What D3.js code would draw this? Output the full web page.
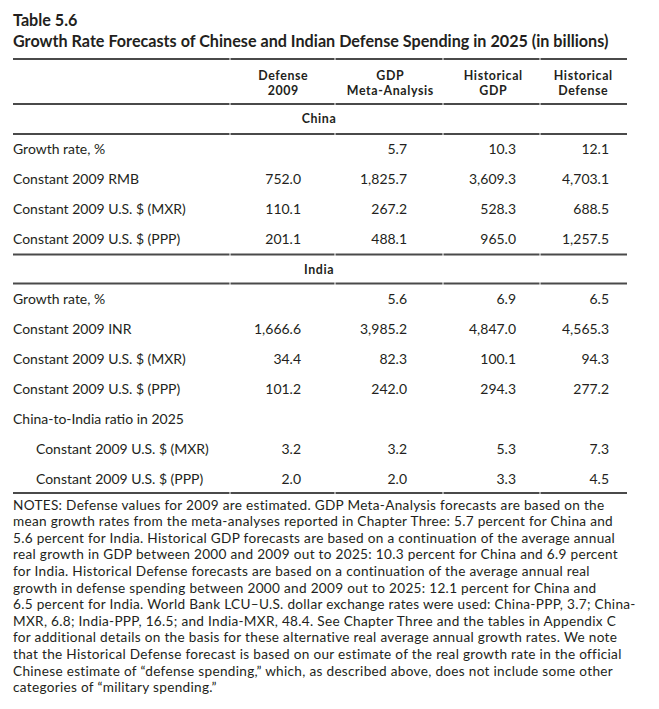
<!DOCTYPE html>
<html><head><meta charset="utf-8">
<script src="https://cdn.jsdelivr.net/npm/d3@7"></script>
<style>
html,body{margin:0;padding:0;background:#fff;}
svg{display:block;}
text{fill:#231f20;}
</style></head>
<body>
<script>
// ---------- data ----------
const tableNumber = "Table 5.6";
const tableTitle = "Growth Rate Forecasts of Chinese and Indian Defense Spending in 2025 (in billions)";
const columnHeads = [["Defense","2009"],["GDP","Meta-Analysis"],["Historical","GDP"],["Historical","Defense"]];
const chinaRows = ["Growth rate, %","Constant 2009 RMB","Constant 2009 U.S. $ (MXR)","Constant 2009 U.S. $ (PPP)"];
const chinaValues = [
  [null, 5.7, 10.3, 12.1],
  [752.0, 1825.7, 3609.3, 4703.1],
  [110.1, 267.2, 528.3, 688.5],
  [201.1, 488.1, 965.0, 1257.5]
];
const indiaRows = ["Growth rate, %","Constant 2009 INR","Constant 2009 U.S. $ (MXR)","Constant 2009 U.S. $ (PPP)"];
const indiaValues = [
  [null, 5.6, 6.9, 6.5],
  [1666.6, 3985.2, 4847.0, 4565.3],
  [34.4, 82.3, 100.1, 94.3],
  [101.2, 242.0, 294.3, 277.2]
];
const ratioHeading = "China-to-India ratio in 2025";
const ratioRows = ["Constant 2009 U.S. $ (MXR)","Constant 2009 U.S. $ (PPP)"];
const ratioValues = [
  [3.2, 3.2, 5.3, 7.3],
  [2.0, 2.0, 3.3, 4.5]
];
const notesLines = [
  "NOTES: Defense values for 2009 are estimated. GDP Meta-Analysis forecasts are based on the",
  "mean growth rates from the meta-analyses reported in Chapter Three: 5.7 percent for China and",
  "5.6 percent for India. Historical GDP forecasts are based on a continuation of the average annual",
  "real growth in GDP between 2000 and 2009 out to 2025: 10.3 percent for China and 6.9 percent",
  "for India. Historical Defense forecasts are based on a continuation of the average annual real",
  "growth in defense spending between 2000 and 2009 out to 2025: 12.1 percent for China and",
  "6.5 percent for India. World Bank LCU\u2013U.S. dollar exchange rates were used: China-PPP, 3.7; China-",
  "MXR, 6.8; India-PPP, 16.5; and India-MXR, 48.4. See Chapter Three and the tables in Appendix C",
  "for additional details on the basis for these alternative real average annual growth rates. We note",
  "that the Historical Defense forecast is based on our estimate of the real growth rate in the official",
  "Chinese estimate of \u201cdefense spending,\u201d which, as described above, does not include some other",
  "categories of \u201cmilitary spending.\u201d"
];

// ---------- layout ----------
const W = 659, H = 709;
const FONT = "Lato, 'Open Sans', sans-serif";
const left = 13, right = 627, indent = 36;
const colKeys = d3.range(columnHeads.length);
const colBounds = [230, 335, 443, 540, right];
const colCenter = d3.scaleOrdinal().domain(colKeys).range([283, 390, 493, 583]);
const colRight = d3.scaleOrdinal().domain(colKeys).range([301, 407, 516, 609]);
const rowY = d3.scaleLinear().domain([0, 1]).range([124, 154]); // baseline per row index
const fmt = d3.format(",.1f");

const svg = d3.select("body").append("svg").attr("width", W).attr("height", H);

// font fitting (measure reference strings)
function measure(str, size, weight) {
  const t = svg.append("text").attr("font-family", FONT).attr("font-size", size)
    .attr("font-weight", weight).text(str);
  const w = t.node().getComputedTextLength(); t.remove(); return w;
}
const bodySize = 13 * 173 / measure("Constant 2009 U.S. $ (MXR)", 13, 400);
const noteSize = Math.min(13.6, 13 * 605 / measure(notesLines[3], 13, 400));
const noteSpacing = Math.max(0, (605 - measure(notesLines[3], noteSize, 400)) / notesLines[3].length);
const titleSize = 15 * 596 / measure(tableTitle, 15, 700);
const headSize = Math.min(12.4, 13 * 59 / measure("Historical", 13, 700));
const headSpacing = Math.max(0, (59 - measure("Historical", headSize, 700)) / 10);

// title
svg.append("text").attr("x", left).attr("y", 26).attr("font-family", FONT)
  .attr("font-size", titleSize).attr("font-weight", 700).text(tableNumber);
svg.append("text").attr("x", left).attr("y", 46.5).attr("font-family", FONT)
  .attr("font-size", titleSize).attr("font-weight", 700).text(tableTitle);

// rules (segmented at column boundaries)
function rule(y) {
  const starts = [left].concat(colBounds.slice(0, -1));
  svg.append("g").selectAll("line").data(colBounds).join("line")
    .attr("x1", (d, i) => starts[i] + (i ? 0.5 : 0)).attr("x2", (d, i) => d - (i < colBounds.length - 1 ? 0.5 : 0))
    .attr("y1", y).attr("y2", y).attr("stroke", "#4a4a4a").attr("stroke-width", 2.2);
}
[59, 104, 134, 254.5, 283.5, 493].forEach(rule);

// column heads (one text per line)
const headLines = columnHeads.flatMap((lines, i) => lines.map((t, j) => ({t, i, j})));
svg.append("g").attr("font-family", FONT).attr("font-size", headSize).attr("font-weight", 700)
  .attr("letter-spacing", headSpacing).attr("text-anchor", "middle")
  .selectAll("text").data(headLines).join("text")
  .attr("x", d => colCenter(d.i) + headSpacing / 2).attr("y", d => 79.5 + d.j * 15).text(d => d.t);

// section labels
const sec = svg.append("g").attr("font-family", FONT).attr("font-size", headSize).attr("font-weight", 700)
  .attr("letter-spacing", headSpacing).attr("text-anchor", "middle");
sec.append("text").attr("x", 319).attr("y", rowY(0) - 1).text("China");
sec.append("text").attr("x", 319).attr("y", rowY(5)).text("India");

// body rows
const rows = []
  .concat(chinaRows.map((l, i) => ({label: l, vals: chinaValues[i], k: 1 + i, x: left})))
  .concat(indiaRows.map((l, i) => ({label: l, vals: indiaValues[i], k: 6 + i, x: left})))
  .concat([{label: ratioHeading, vals: [], k: 10, x: left}])
  .concat(ratioRows.map((l, i) => ({label: l, vals: ratioValues[i], k: 11 + i, x: indent})));

const body = svg.append("g").attr("font-family", FONT).attr("font-size", bodySize);
const rg = body.selectAll("g").data(rows).join("g");
rg.append("text").attr("x", d => d.x).attr("y", d => rowY(d.k)).text(d => d.label);
rg.selectAll("text.v").data(d => d.vals.map((v, i) => ({v, i, k: d.k})).filter(e => e.v != null))
  .join("text").attr("class", "v").attr("text-anchor", "end")
  .attr("x", e => colRight(e.i)).attr("y", e => rowY(e.k)).text(e => fmt(e.v));

// notes
const noteY = d3.scaleLinear().domain([0, 1]).range([509.5, 526.1]);
svg.append("g").attr("font-family", FONT).attr("font-size", noteSize).attr("letter-spacing", noteSpacing)
  .selectAll("text").data(notesLines).join("text")
  .attr("x", left).attr("y", (d, i) => noteY(i)).text(d => d);
</script>
</body></html>
